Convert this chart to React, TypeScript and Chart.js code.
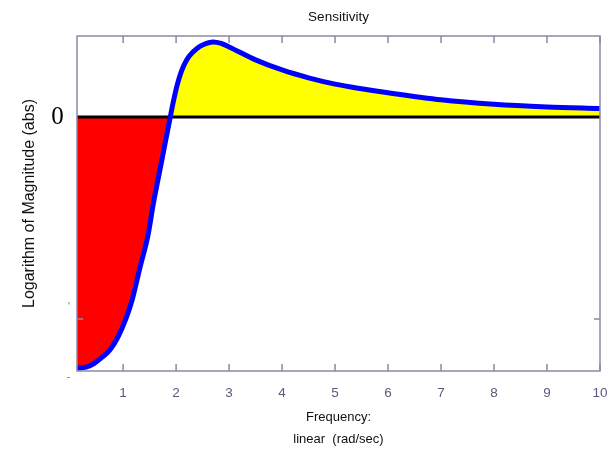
import React, { useEffect, useRef } from "react";
import { Chart, registerables } from "chart.js";

Chart.register(...registerables);

// Data
const frequency = [0.13, 0.3, 0.45, 0.6, 0.75, 0.9, 1.05, 1.17, 1.32, 1.47, 1.57, 1.7, 1.8, 1.89, 1.95, 2.02, 2.1, 2.17, 2.25, 2.4, 2.5, 2.7, 2.85, 3.0, 3.5, 4.0, 4.5, 5.0, 5.5, 6.0, 7.0, 8.0, 9.0, 10.0];
const logMagnitude = [-1.243, -1.238, -1.22, -1.19, -1.153, -1.09, -1.0, -0.906, -0.743, -0.585, -0.43, -0.255, -0.12, 0, 0.078, 0.158, 0.226, 0.268, 0.302, 0.34, 0.356, 0.371, 0.364, 0.347, 0.283, 0.233, 0.194, 0.163, 0.14, 0.12, 0.085, 0.063, 0.05, 0.042];
const xTickValues = [1, 2, 3, 4, 5, 6, 7, 8, 9, 10];
const yTickValues = [-1.257, -1, 0];
const yTickLabels: (string | string[])[] = [["", "-"], ["'", "", ""], "0 "];
const xRange = [0.13, 10];
const yRange = [-1.257, 0.401];

const SANS = "'Liberation Sans', Arial, sans-serif";
const FRAME = "#8a8aa6";

const framePlugin = {
  id: "frame",
  afterDraw(chart: any) {
    const { ctx, chartArea: a, scales } = chart;
    ctx.save();
    ctx.strokeStyle = FRAME;
    ctx.lineWidth = 1.5;
    ctx.strokeRect(a.left, a.top, a.right - a.left, a.bottom - a.top);
    ctx.beginPath();
    for (const v of xTickValues) {
      const px = scales.x.getPixelForValue(v);
      ctx.moveTo(px, a.bottom);
      ctx.lineTo(px, a.bottom - 7);
      ctx.moveTo(px, a.top);
      ctx.lineTo(px, a.top + 7);
    }
    for (const v of yTickValues) {
      if (v === 0 || v === yRange[0]) continue;
      const py = scales.y.getPixelForValue(v);
      ctx.moveTo(a.left, py);
      ctx.lineTo(a.left + 6, py);
      ctx.moveTo(a.right, py);
      ctx.lineTo(a.right - 6, py);
    }
    ctx.stroke();
    ctx.restore();
  },
};

export default function App() {
  const ref = useRef<HTMLCanvasElement | null>(null);
  useEffect(() => {
    if (!ref.current) return;
    const chart = new Chart(ref.current, {
      type: "line",
      data: {
        datasets: [
          {
            label: "Sensitivity",
            data: frequency.map((f, i) => ({ x: f, y: logMagnitude[i] })),
            borderColor: "#0000ff",
            borderWidth: 5,
            pointRadius: 0,
            cubicInterpolationMode: "monotone",
            fill: { target: "origin", above: "#ffff00", below: "#ff0000" },
          },
          {
            label: "zero",
            data: xRange.map((f) => ({ x: f, y: 0 })),
            borderColor: "#000000",
            borderWidth: 3,
            pointRadius: 0,
            fill: false,
          },
        ],
      },
      options: {
        animation: false,
        responsive: false,
        layout: { padding: { left: 0, right: 12, top: 0, bottom: 0 } },
        plugins: {
          legend: { display: false },
          tooltip: { enabled: false },
          filler: { propagate: false, drawTime: "beforeDatasetsDraw" } as any,
          title: {
            display: true,
            text: "Sensitivity",
            fullSize: false,
            color: "#111111",
            font: { family: SANS, size: 13.5, weight: "normal", lineHeight: "16px" } as any,
            padding: { top: 9.5, bottom: 10.5 },
          },
        },
        scales: {
          x: {
            type: "linear",
            min: xRange[0],
            max: xRange[1],
            afterBuildTicks: (s: any) => {
              s.ticks = xTickValues.map((v) => ({ value: v }));
            },
            afterFit: (s: any) => {
              s.height = 79;
              s.paddingLeft = 0;
              s.paddingRight = 0;
            },
            grid: { display: false, drawTicks: false },
            border: { display: false },
            ticks: {
              color: "#5a5a7c",
              font: { family: SANS, size: 13.5 },
              padding: 14,
              maxRotation: 0,
              autoSkip: false,
              callback: (v: any) => String(v),
            },
            title: {
              display: true,
              text: ["Frequency:", "linear  (rad/sec)"],
              color: "#111111",
              font: { family: SANS, size: 13, lineHeight: "22px" } as any,
              padding: 0,
            },
          },
          y: {
            type: "linear",
            min: yRange[0],
            max: yRange[1],
            afterBuildTicks: (s: any) => {
              s.ticks = yTickValues.map((v) => ({ value: v }));
            },
            afterFit: (s: any) => {
              s.width = 77;
              s.paddingTop = 0;
              s.paddingBottom = 0;
            },
            grid: { display: false, drawTicks: false },
            border: { display: false },
            ticks: {
              padding: 7,
              autoSkip: false,
              callback: (v: any) => {
                const i = yTickValues.indexOf(v);
                return i >= 0 ? yTickLabels[i] : "";
              },
              color: (c: any) => (c.tick && c.tick.value === 0 ? "#000000" : "#6a6a88"),
              font: (c: any) =>
                c.tick && c.tick.value === 0
                  ? { family: "'Liberation Serif', 'Times New Roman', serif", size: 25, lineHeight: 1.2 }
                  : { family: SANS, size: 10, lineHeight: "12px" },
            } as any,
            title: {
              display: true,
              text: "Logarithm of Magnitude (abs)",
              color: "#111111",
              font: { family: SANS, size: 16, lineHeight: 1.2 },
              padding: { top: 20.4, bottom: 0 },
            },
          },
        },
      },
      plugins: [framePlugin],
    } as any);
    return () => chart.destroy();
  }, []);
  return (
    <div style={{ position: "fixed", left: 0, top: 0, width: 612, height: 450, background: "#ffffff" }}>
      <canvas ref={ref} width={612} height={450} style={{ display: "block", width: 612, height: 450 }} />
    </div>
  );
}
